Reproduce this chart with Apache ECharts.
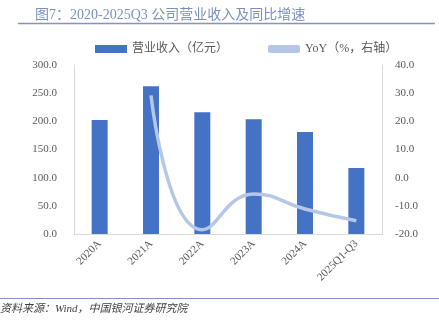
<!DOCTYPE html>
<html><head><meta charset="utf-8">
<script src="https://cdn.jsdelivr.net/npm/echarts@6/dist/echarts.min.js"></script>
<style>html,body{margin:0;padding:0;background:#fff}#c{width:439px;height:324px}</style>
</head><body><div id="c"></div>
<script>
var categories = ['2020A','2021A','2022A','2023A','2024A','2025Q1-Q3'];
var revenue = [202.5, 262.5, 216.0, 203.5, 181.0, 117.0];
var yoy = [null, 29.2, -18.5, -5.8, -11.1, -15.3];
var leftTicks = {min:0, max:300, interval:50};
var rightTicks = {min:-20, max:40, interval:10};

var serif = '"Liberation Serif","Noto Sans CJK SC",serif';
var chart = echarts.init(document.getElementById('c'), null, {renderer:'canvas'});
chart.setOption({
  animation:false,
  title:{text:'图7：2020-2025Q3 公司营业收入及同比增速', left:30, top:3,
    textStyle:{fontSize:14, fontWeight:'normal', color:'#7b8fc0', fontFamily:serif}},
  graphic:[
    {type:'line', shape:{x1:18,y1:23.5,x2:435,y2:23.5}, style:{stroke:'#8095c4', lineWidth:1.5}},
    {type:'line', shape:{x1:0,y1:298.5,x2:439,y2:298.5}, style:{stroke:'#8095c4', lineWidth:1}},
    {type:'text', left:0, top:304, style:{text:'资料来源：Wind，中国银河证券研究院', fill:'#404040', font:'italic 11px '+serif}}
  ],
  legend:{top:38, left:90, itemGap:40, itemWidth:32, itemHeight:8,
    textStyle:{fontSize:12, color:'#595959', fontFamily:serif},
    data:[{name:'营业收入（亿元）', icon:'rect'},{name:'YoY（%，右轴）', icon:'roundRect'}]},
  grid:{left:74, right:57, top:65, bottom:90},
  xAxis:{type:'category', data:categories,
    axisLine:{lineStyle:{color:'#d9d9d9'}}, axisTick:{show:false},
    axisLabel:{rotate:45, color:'#595959', fontSize:11, fontFamily:serif, margin:8, interval:0}},
  yAxis:[
    {type:'value', min:leftTicks.min, max:leftTicks.max, interval:leftTicks.interval,
     axisLine:{show:true, lineStyle:{color:'#d9d9d9'}}, axisTick:{show:false}, splitLine:{show:false},
     axisLabel:{color:'#595959', fontSize:11, fontFamily:serif, margin:17, formatter:function(v){return v.toFixed(1);}}},
    {type:'value', min:rightTicks.min, max:rightTicks.max, interval:rightTicks.interval,
     axisLine:{show:true, lineStyle:{color:'#d9d9d9'}}, axisTick:{show:false}, splitLine:{show:false},
     axisLabel:{color:'#595959', fontSize:11, fontFamily:serif, margin:13, formatter:function(v){return v.toFixed(1);}}}
  ],
  series:[
    {name:'营业收入（亿元）', type:'bar', data:revenue, barWidth:16, itemStyle:{color:'#4472c4'}},
    {name:'YoY（%，右轴）', type:'line', yAxisIndex:1, data:yoy, smooth:0.5, showSymbol:false, symbol:'none',
     lineStyle:{color:'#b4c7e7', width:3.5}, itemStyle:{color:'#b4c7e7'}}
  ]
});
</script></body></html>
